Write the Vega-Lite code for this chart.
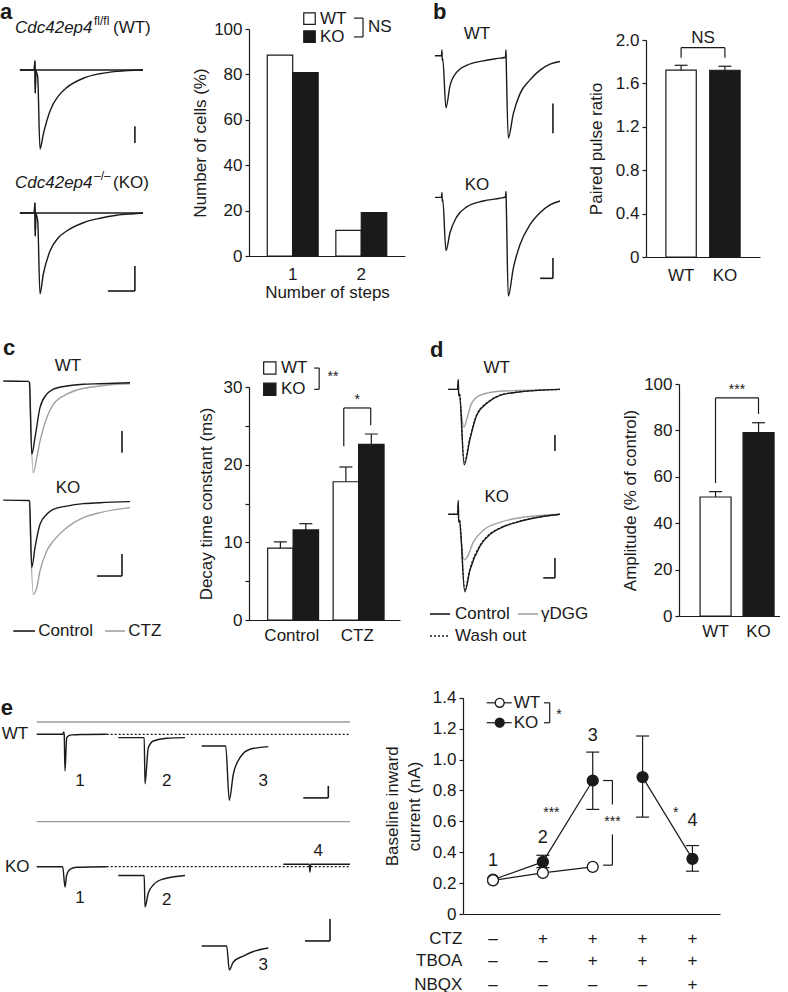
{
"$schema":"https://vega.github.io/schema/vega-lite/v6.json",
"padding":0,
"background":"white",
"columns":4,
"align":"none",
"spacing":{"row":44,"column":0},
"bounds":"flush",
"config":{
 "font":"Liberation Sans",
 "view":{"stroke":null},
 "axis":{"labelFont":"Liberation Sans","titleFont":"Liberation Sans","labelFontSize":17,"titleFontSize":17,"titleFontWeight":"normal","labelColor":"#1a1a1a","titleColor":"#1a1a1a","domainColor":"#1a1a1a","tickColor":"#1a1a1a","domainWidth":1.2,"tickWidth":1.2,"grid":false,"labelPadding":3,"tickSize":4},
 "text":{"font":"Liberation Sans","fontSize":17,"color":"#1a1a1a"},
 "line":{"color":"#1a1a1a","strokeWidth":1.4},
 "rule":{"color":"#1a1a1a","strokeWidth":1.2}
},
"datasets":{
 "aWT":[{"s":"r","t":-5.6,"i":0},{"s":"r","t":-0.3,"i":0},{"s":"r","t":0,"i":54},{"s":"r","t":0.1,"i":-137},{"s":"r","t":0.3,"i":-5},{"s":"r","t":1.0,"i":-40},{"s":"r","t":1.85,"i":-470},{"s":"r","t":3.07,"i":-383},{"s":"r","t":5.56,"i":-244},{"s":"r","t":8.63,"i":-155},{"s":"r","t":11.74,"i":-105},{"s":"r","t":17.9,"i":-49},{"s":"r","t":24.1,"i":-22},{"s":"r","t":30.3,"i":-8},{"s":"r","t":40,"i":0},
  {"s":"f","t":-5.6,"i":0},{"s":"f","t":-0.3,"i":0},{"s":"f","t":0,"i":54},{"s":"f","t":0.1,"i":-137},{"s":"f","t":0.3,"i":0},{"s":"f","t":40,"i":0}],
 "aKO":[{"s":"r","t":-5.6,"i":0},{"s":"r","t":-0.3,"i":0},{"s":"r","t":0,"i":40},{"s":"r","t":0.1,"i":-92},{"s":"r","t":0.3,"i":-4},{"s":"r","t":1.0,"i":-30},{"s":"r","t":1.85,"i":-324},{"s":"r","t":3.07,"i":-245},{"s":"r","t":5.56,"i":-152},{"s":"r","t":8.63,"i":-99},{"s":"r","t":11.74,"i":-72},{"s":"r","t":17.9,"i":-39},{"s":"r","t":24.1,"i":-21},{"s":"r","t":30.3,"i":-9},{"s":"r","t":36.5,"i":-3},{"s":"r","t":40,"i":0},
  {"s":"f","t":-5.6,"i":0},{"s":"f","t":-0.3,"i":0},{"s":"f","t":0,"i":40},{"s":"f","t":0.1,"i":-92},{"s":"f","t":0.3,"i":0},{"s":"f","t":40,"i":0}],
 "bWT":[{"t":-5.5,"i":0},{"t":-0.4,"i":0},{"t":0,"i":20},{"t":0.2,"i":-16},{"t":0.6,"i":-10},{"t":3.1,"i":-175},{"t":6.25,"i":-101},{"t":11.5,"i":-55},{"t":19.3,"i":-32},{"t":32.3,"i":-17},{"t":45.3,"i":-8},{"t":49.6,"i":-5},{"t":50,"i":20},{"t":50.2,"i":-20},{"t":51.8,"i":-277},{"t":55.7,"i":-195},{"t":60.9,"i":-128},{"t":68.75,"i":-81},{"t":76.6,"i":-48},{"t":84.4,"i":-28},{"t":92.2,"i":-19}],
 "bKO":[{"t":-5.5,"i":0},{"t":-0.4,"i":0},{"t":0,"i":25},{"t":0.2,"i":-20},{"t":0.6,"i":-10},{"t":3.1,"i":-263},{"t":6.25,"i":-175},{"t":11.5,"i":-96},{"t":19.3,"i":-47},{"t":32.3,"i":-18},{"t":45.3,"i":-4},{"t":49.6,"i":2},{"t":50,"i":30},{"t":50.2,"i":-20},{"t":51.8,"i":-488},{"t":55.7,"i":-351},{"t":60.9,"i":-234},{"t":68.75,"i":-135},{"t":76.6,"i":-76},{"t":84.4,"i":-37},{"t":92.2,"i":-18}],
 "cWT":[{"s":"Control","t":-10.7,"i":8},{"s":"Control","t":-0.6,"i":6},{"s":"Control","t":-0.2,"i":0},{"s":"Control","t":0.7,"i":-330},{"s":"Control","t":2,"i":-253},{"s":"Control","t":4,"i":-115},{"s":"Control","t":6.7,"i":-53},{"s":"Control","t":9.3,"i":-30},{"s":"Control","t":14.7,"i":-15},{"s":"Control","t":21.3,"i":-7},{"s":"Control","t":28,"i":-5},{"s":"Control","t":40,"i":0},
  {"s":"CTZ","t":-0.2,"i":0},{"s":"CTZ","t":1.3,"i":-415},{"s":"CTZ","t":2.7,"i":-346},{"s":"CTZ","t":4,"i":-269},{"s":"CTZ","t":6.7,"i":-161},{"s":"CTZ","t":9.3,"i":-100},{"s":"CTZ","t":14.7,"i":-53},{"s":"CTZ","t":21.3,"i":-26},{"s":"CTZ","t":28,"i":-15},{"s":"CTZ","t":34.7,"i":-7},{"s":"CTZ","t":40,"i":-5}],
 "cKO":[{"s":"Control","t":-10.7,"i":4},{"s":"Control","t":-0.6,"i":2},{"s":"Control","t":-0.2,"i":0},{"s":"Control","t":0.7,"i":-303},{"s":"Control","t":2,"i":-212},{"s":"Control","t":4,"i":-106},{"s":"Control","t":6.7,"i":-60},{"s":"Control","t":9.3,"i":-38},{"s":"Control","t":14.7,"i":-23},{"s":"Control","t":21.3,"i":-12},{"s":"Control","t":28,"i":-8},{"s":"Control","t":40,"i":-3},
  {"s":"CTZ","t":-0.2,"i":0},{"s":"CTZ","t":1.3,"i":-424},{"s":"CTZ","t":2.7,"i":-394},{"s":"CTZ","t":4,"i":-318},{"s":"CTZ","t":6.7,"i":-227},{"s":"CTZ","t":9.3,"i":-182},{"s":"CTZ","t":14.7,"i":-121},{"s":"CTZ","t":21.3,"i":-76},{"s":"CTZ","t":28,"i":-53},{"s":"CTZ","t":34.7,"i":-38},{"s":"CTZ","t":40,"i":-30}],
 "dWT":[{"s":"Control","t":-8.5,"i":0},{"s":"Control","t":-0.6,"i":0},{"s":"Control","t":0,"i":62},{"s":"Control","t":0.3,"i":-40},{"s":"Control","t":1.0,"i":-30},{"s":"Control","t":5,"i":-471},{"s":"Control","t":10,"i":-310},{"s":"Control","t":15.7,"i":-161},{"s":"Control","t":24.3,"i":-87},{"s":"Control","t":35.6,"i":-37},{"s":"Control","t":49.9,"i":-18},{"s":"Control","t":86.9,"i":0},
  {"s":"gDGG","t":1.0,"i":-30},{"s":"gDGG","t":4.9,"i":-236},{"s":"gDGG","t":7.2,"i":-186},{"s":"gDGG","t":11.4,"i":-87},{"s":"gDGG","t":18.5,"i":-37},{"s":"gDGG","t":35.6,"i":-12},{"s":"gDGG","t":86.9,"i":0},
  {"s":"Wash","t":-8.5,"i":0},{"s":"Wash","t":-0.6,"i":0},{"s":"Wash","t":0,"i":50},{"s":"Wash","t":0.3,"i":-30},{"s":"Wash","t":1.0,"i":-25},{"s":"Wash","t":5,"i":-455},{"s":"Wash","t":10,"i":-300},{"s":"Wash","t":15.7,"i":-158},{"s":"Wash","t":24.3,"i":-85},{"s":"Wash","t":35.6,"i":-36},{"s":"Wash","t":49.9,"i":-17},{"s":"Wash","t":86.9,"i":0}],
 "dKO":[{"s":"Control","t":-8.5,"i":0},{"s":"Control","t":-0.6,"i":0},{"s":"Control","t":0,"i":69},{"s":"Control","t":0.3,"i":-40},{"s":"Control","t":1.0,"i":-30},{"s":"Control","t":5.5,"i":-387},{"s":"Control","t":10,"i":-278},{"s":"Control","t":18.5,"i":-159},{"s":"Control","t":27.1,"i":-100},{"s":"Control","t":35.6,"i":-70},{"s":"Control","t":49.9,"i":-40},{"s":"Control","t":64.1,"i":-20},{"s":"Control","t":86.9,"i":0},
  {"s":"gDGG","t":1.0,"i":-30},{"s":"gDGG","t":4.9,"i":-228},{"s":"gDGG","t":7.2,"i":-218},{"s":"gDGG","t":12.8,"i":-139},{"s":"gDGG","t":21.4,"i":-80},{"s":"gDGG","t":35.6,"i":-40},{"s":"gDGG","t":49.9,"i":-20},{"s":"gDGG","t":86.9,"i":0},
  {"s":"Wash","t":-8.5,"i":0},{"s":"Wash","t":-0.6,"i":0},{"s":"Wash","t":0,"i":55},{"s":"Wash","t":0.3,"i":-30},{"s":"Wash","t":1.0,"i":-25},{"s":"Wash","t":5.5,"i":-375},{"s":"Wash","t":10,"i":-270},{"s":"Wash","t":18.5,"i":-155},{"s":"Wash","t":27.1,"i":-97},{"s":"Wash","t":35.6,"i":-68},{"s":"Wash","t":49.9,"i":-39},{"s":"Wash","t":64.1,"i":-19},{"s":"Wash","t":86.9,"i":0}],
 "eWT":[{"s":"1","t":0,"i":0},{"s":"1","t":52,"i":0},{"s":"1","t":54,"i":20},{"s":"1","t":55,"i":0},{"s":"1","t":56.6,"i":-306},{"s":"1","t":60,"i":-28},{"s":"1","t":64,"i":-12},{"s":"1","t":70.6,"i":-5},{"s":"1","t":90,"i":-2},{"s":"1","t":140,"i":0},
  {"s":"2","t":163.2,"i":-28},{"s":"2","t":215,"i":-28},{"s":"2","t":216.6,"i":-412},{"s":"2","t":223.2,"i":-112},{"s":"2","t":233.2,"i":-56},{"s":"2","t":260,"i":-33},{"s":"2","t":296.6,"i":-28},
  {"s":"3","t":330,"i":-97.5},{"s":"3","t":378,"i":-97.5},{"s":"3","t":385.2,"i":-550},{"s":"3","t":393.2,"i":-333},{"s":"3","t":406.6,"i":-195},{"s":"3","t":426.6,"i":-125},{"s":"3","t":463.2,"i":-103}],
 "eKO":[{"s":"1","t":0,"i":0},{"s":"1","t":52,"i":0},{"s":"1","t":56.6,"i":-185},{"s":"1","t":60,"i":-75},{"s":"1","t":66.6,"i":-24},{"s":"1","t":80,"i":-5},{"s":"1","t":140,"i":0},
  {"s":"2","t":163.2,"i":-80},{"s":"2","t":215,"i":-80},{"s":"2","t":216.6,"i":-366},{"s":"2","t":223.2,"i":-239},{"s":"2","t":233.2,"i":-166},{"s":"2","t":253.2,"i":-112},{"s":"2","t":296.6,"i":-80},
  {"s":"3","t":330,"i":-721},{"s":"3","t":380,"i":-721},{"s":"3","t":385.2,"i":-939},{"s":"3","t":393.2,"i":-866},{"s":"3","t":413.2,"i":-812},{"s":"3","t":433.2,"i":-771},{"s":"3","t":463.2,"i":-739},
  {"s":"4","t":493.2,"i":22},{"s":"4","t":545,"i":22},{"s":"4","t":546.6,"i":-48},{"s":"4","t":548,"i":22},{"s":"4","t":626.6,"i":22}],
 "barsA":[{"steps":"1","geno":"WT","pct":88.5},{"steps":"1","geno":"KO","pct":80.8},{"steps":"2","geno":"WT","pct":11.3},{"steps":"2","geno":"KO","pct":19.1}],
 "barsB":[{"geno":"WT","ppr":1.723,"hi":1.767},{"geno":"KO","ppr":1.721,"hi":1.758}],
 "barsC":[{"cond":"Control","geno":"WT","tau":9.26,"hi":10.06},{"cond":"Control","geno":"KO","tau":11.6,"hi":12.4},{"cond":"CTZ","geno":"WT","tau":17.8,"hi":19.7},{"cond":"CTZ","geno":"KO","tau":22.6,"hi":23.95}],
 "barsD":[{"geno":"WT","amp":51.3,"hi":53.6},{"geno":"KO","amp":79.0,"hi":83.3}],
 "lineE":[{"geno":"KO","seg":"KOa","cond":1,"val":0.222},{"geno":"KO","seg":"KOa","cond":2,"val":0.337},{"geno":"KO","seg":"KOa","cond":3,"val":0.864},{"geno":"KO","seg":"KOb","cond":4,"val":0.886},{"geno":"KO","seg":"KOb","cond":5,"val":0.357},{"geno":"WT","seg":"WT","cond":1,"val":0.218},{"geno":"WT","seg":"WT","cond":2,"val":0.266},{"geno":"WT","seg":"WT","cond":3,"val":0.305}],
 "errE":[{"cond":2,"val":0.30,"val2":0.38},{"cond":3,"val":0.677,"val2":1.048},{"cond":4,"val":0.627,"val2":1.152},{"cond":5,"val":0.277,"val2":0.443}]
},
"concat":[
  {"width":249,"height":256,"resolve":{"scale":{"y":"independent"}},"layer":[
   {"encoding":{"x":{"field":"t","type":"quantitative","scale":{"domain":[-12.96,79.26],"nice":false,"zero":false},"axis":null},"y":{"field":"i","type":"quantitative","scale":{"domain":[-1113.1,410.7],"nice":false,"zero":false},"axis":null}},
    "layer":[
     {"data":{"name":"aWT"},"mark":{"type":"line","interpolate":"monotone"},"encoding":{"detail":{"field":"s","type":"nominal"}}},
     {"data":{"values":[{"t":37,"i":-335,"t2":37,"i2":-435}]},"mark":{"type":"rule","strokeWidth":1.6},"encoding":{"x2":{"field":"t2"},"y2":{"field":"i2"}}},
     {"data":{"values":[{"t":-12.96,"i":345,"label":"a"}]},"mark":{"type":"text","align":"left","baseline":"middle","fontSize":22,"fontWeight":"bold"},"encoding":{"text":{"field":"label"}}},
     {"data":{"values":[{"t":-7.41,"i":251.8,"label":"Cdc42ep4"}]},"mark":{"type":"text","align":"left","baseline":"middle","fontStyle":"italic"},"encoding":{"text":{"field":"label"}}},
     {"data":{"values":[{"t":21.85,"i":293,"label":"fl/fl"}]},"mark":{"type":"text","align":"left","baseline":"middle","fontSize":12},"encoding":{"text":{"field":"label"}}},
     {"data":{"values":[{"t":28.89,"i":251.8,"label":"(WT)"}]},"mark":{"type":"text","align":"left","baseline":"middle"},"encoding":{"text":{"field":"label"}}}
    ]},
   {"encoding":{"x":{"field":"t","type":"quantitative","scale":{"domain":[-12.96,79.26],"nice":false,"zero":false},"axis":null},"y":{"field":"i","type":"quantitative","scale":{"domain":[-176,848],"nice":false,"zero":false},"axis":null}},
    "layer":[
     {"data":{"name":"aKO"},"mark":{"type":"line","interpolate":"monotone"},"encoding":{"detail":{"field":"s","type":"nominal"}}},
     {"data":{"values":[{"t":37,"i":-212,"t2":37,"i2":-312},{"t":27,"i":-312,"t2":37,"i2":-312}]},"mark":{"type":"rule","strokeWidth":1.6},"encoding":{"x2":{"field":"t2"},"y2":{"field":"i2"}}},
     {"data":{"values":[{"t":-7.41,"i":121.2,"label":"Cdc42ep4"}]},"mark":{"type":"text","align":"left","baseline":"middle","fontStyle":"italic"},"encoding":{"text":{"field":"label"}}},
     {"data":{"values":[{"t":21.85,"i":149,"label":"–/–"}]},"mark":{"type":"text","align":"left","baseline":"middle","fontSize":12},"encoding":{"text":{"field":"label"}}},
     {"data":{"values":[{"t":28.89,"i":121.2,"label":"(KO)"}]},"mark":{"type":"text","align":"left","baseline":"middle"},"encoding":{"text":{"field":"label"}}}
    ]}
  ]},
  {"width":156,"height":255,"resolve":{"scale":{"x":"independent"}},"layer":[
   {"data":{"name":"barsA"},"mark":{"type":"bar","stroke":"#1a1a1a","strokeWidth":1.2},
    "encoding":{
     "x":{"field":"steps","type":"nominal","scale":{"paddingInner":0.258,"paddingOuter":0.266},"axis":{"title":"Number of steps","labelAngle":0,"ticks":false,"tickSize":0,"labelPadding":10,"titlePadding":2}},
     "xOffset":{"field":"geno","type":"nominal","sort":["WT","KO"],"scale":{"paddingInner":0,"paddingOuter":0}},
     "y":{"field":"pct","type":"quantitative","title":"Number of cells (%)","scale":{"domain":[0,100],"range":[255,28],"nice":false},"axis":{"values":[0,20,40,60,80,100],"titlePadding":4}},
     "fill":{"field":"geno","type":"nominal","scale":{"domain":["WT","KO"],"range":["#ffffff","#1a1a1a"]},"legend":null}}},
   {"encoding":{"x":{"field":"g","type":"quantitative","scale":{"domain":[0.363,2.637],"nice":false,"zero":false},"axis":null},"y":{"field":"v","type":"quantitative","title":"Number of cells (%)"}},
    "layer":[
     {"data":{"values":[{"g":1.245,"v":104.6,"geno":"WT"},{"g":1.245,"v":96.6,"geno":"KO"}]},"mark":{"type":"square","size":132,"stroke":"#1a1a1a","strokeWidth":1.2,"opacity":1,"filled":true},"encoding":{"fill":{"field":"geno","type":"nominal","legend":null}}},
     {"data":{"values":[{"g":1.398,"v":104.6,"label":"WT"},{"g":1.398,"v":96.6,"label":"KO"},{"g":2.098,"v":100.7,"label":"NS"}]},"mark":{"type":"text","align":"left","baseline":"middle"},"encoding":{"text":{"field":"label"}}},
     {"data":{"values":[{"g":2.025,"v":104.8,"g2":2.025,"v2":96.5},{"g":1.894,"v":104.8,"g2":2.025,"v2":104.8},{"g":1.894,"v":96.5,"g2":2.025,"v2":96.5}]},"mark":{"type":"rule","strokeWidth":1.2},"encoding":{"x2":{"field":"g2"},"y2":{"field":"v2"}}}
    ]}
  ]},
  {"width":241,"height":256,"resolve":{"scale":{"y":"independent"}},"layer":[
   {"encoding":{"x":{"field":"t","type":"quantitative","scale":{"domain":[-28.9,159.4],"nice":false,"zero":false},"axis":null},"y":{"field":"i","type":"quantitative","scale":{"domain":[-676.3,184.2],"nice":false,"zero":false},"axis":null}},
    "layer":[
     {"data":{"name":"bWT"},"mark":{"type":"line","interpolate":"monotone"}},
     {"data":{"values":[{"t":86.7,"i":-160,"t2":86.7,"i2":-260}]},"mark":{"type":"rule","strokeWidth":1.6},"encoding":{"x2":{"field":"t2"},"y2":{"field":"i2"}}},
     {"data":{"values":[{"t":-7.0,"i":148,"label":"b"}]},"mark":{"type":"text","align":"left","baseline":"middle","fontSize":22,"fontWeight":"bold"},"encoding":{"text":{"field":"label"}}},
     {"data":{"values":[{"t":27.3,"i":72,"label":"WT"}]},"mark":{"type":"text","align":"center","baseline":"middle"},"encoding":{"text":{"field":"label"}}}
    ]},
   {"encoding":{"x":{"field":"t","type":"quantitative","scale":{"domain":[-28.9,159.4],"nice":false,"zero":false},"axis":null},"y":{"field":"i","type":"quantitative","scale":{"domain":[-294.6,970.8],"nice":false,"zero":false},"axis":null}},
    "layer":[
     {"data":{"name":"bKO"},"mark":{"type":"line","interpolate":"monotone"}},
     {"data":{"values":[{"t":86.7,"i":-300,"t2":86.7,"i2":-400},{"t":76.7,"i":-400,"t2":86.7,"i2":-400}]},"mark":{"type":"rule","strokeWidth":1.6},"encoding":{"x2":{"field":"t2"},"y2":{"field":"i2"}}},
     {"data":{"values":[{"t":27.3,"i":59,"label":"KO"}]},"mark":{"type":"text","align":"center","baseline":"middle"},"encoding":{"text":{"field":"label"}}}
    ]}
  ]},
  {"width":114,"height":256,"resolve":{"scale":{"x":"independent"}},"layer":[
   {"data":{"name":"barsB"},
    "encoding":{
     "x":{"field":"geno","type":"nominal","sort":["WT","KO"],"scale":{"paddingInner":0.307,"paddingOuter":0.4545},"axis":{"title":null,"labelAngle":0,"ticks":false,"tickSize":0,"labelPadding":10}},
     "y":{"field":"ppr","type":"quantitative","title":"Paired pulse ratio","scale":{"domain":[0,2],"range":[256,39],"nice":false},"axis":{"values":[0,0.4,0.8,1.2,1.6,2.0],"labelExpr":"datum.value == 0 ? '0' : format(datum.value, '.1f')","titlePadding":10}}},
    "layer":[
     {"mark":{"type":"bar","stroke":"#1a1a1a","strokeWidth":1.2},"encoding":{"fill":{"field":"geno","type":"nominal","scale":{"domain":["WT","KO"],"range":["#ffffff","#1a1a1a"]},"legend":null}}},
     {"mark":{"type":"rule","strokeWidth":1.2},"encoding":{"y2":{"field":"hi"}}},
     {"mark":{"type":"tick","size":13,"thickness":1.2,"color":"#1a1a1a","opacity":1},"encoding":{"y":{"field":"hi","type":"quantitative","title":"Paired pulse ratio"}}}
    ]},
   {"encoding":{"x":{"field":"g","type":"quantitative","scale":{"domain":[0.1986,2.8015],"nice":false,"zero":false},"axis":null},"y":{"field":"v","type":"quantitative","title":"Paired pulse ratio"}},
    "layer":[
     {"data":{"values":[{"g":1,"v":1.929,"g2":2,"v2":1.929},{"g":1,"v":1.929,"g2":1,"v2":1.837},{"g":2,"v":1.929,"g2":2,"v2":1.837}]},"mark":{"type":"rule","strokeWidth":1.2},"encoding":{"x2":{"field":"g2"},"y2":{"field":"v2"}}},
     {"data":{"values":[{"g":1.5,"v":2.02,"label":"NS"}]},"mark":{"type":"text","align":"center","baseline":"middle"},"encoding":{"text":{"field":"label"}}}
    ]}
  ]},
  {"width":248,"height":319,"resolve":{"scale":{"y":"independent"}},"layer":[
   {"encoding":{"x":{"field":"t","type":"quantitative","scale":{"domain":[-12,87.2],"nice":false,"zero":false},"axis":null},"y":{"field":"i","type":"quantitative","scale":{"domain":[-1093.5,376.5],"nice":false,"zero":false},"axis":null}},
    "layer":[
     {"data":{"name":"cWT"},"transform":[{"filter":"datum.s === 'CTZ'"}],"mark":{"type":"line","interpolate":"monotone","color":"#a0a0a0"}},
     {"data":{"name":"cWT"},"transform":[{"filter":"datum.s === 'Control'"}],"mark":{"type":"line","interpolate":"monotone"}},
     {"data":{"values":[{"t":36.8,"i":-223,"t2":36.8,"i2":-323}]},"mark":{"type":"rule","strokeWidth":1.6},"encoding":{"x2":{"field":"t2"},"y2":{"field":"i2"}}},
     {"data":{"values":[{"t":-10.8,"i":161,"label":"c"}]},"mark":{"type":"text","align":"left","baseline":"middle","fontSize":22,"fontWeight":"bold"},"encoding":{"text":{"field":"label"}}},
     {"data":{"values":[{"t":15.2,"i":77,"label":"WT"}]},"mark":{"type":"text","align":"center","baseline":"middle"},"encoding":{"text":{"field":"label"}}}
    ]},
   {"encoding":{"x":{"field":"t","type":"quantitative","scale":{"domain":[-12,87.2],"nice":false,"zero":false},"axis":null},"y":{"field":"i","type":"quantitative","scale":{"domain":[-540.9,909.1],"nice":false,"zero":false},"axis":null}},
    "layer":[
     {"data":{"name":"cKO"},"transform":[{"filter":"datum.s === 'CTZ'"}],"mark":{"type":"line","interpolate":"monotone","color":"#a0a0a0"}},
     {"data":{"name":"cKO"},"transform":[{"filter":"datum.s === 'Control'"}],"mark":{"type":"line","interpolate":"monotone"}},
     {"data":{"values":[{"t":36.8,"i":-241,"t2":36.8,"i2":-341},{"t":26.8,"i":-341,"t2":36.8,"i2":-341},{"t":-6.7,"i":-591,"t2":2,"i2":-591}]},"mark":{"type":"rule","strokeWidth":1.6},"encoding":{"x2":{"field":"t2"},"y2":{"field":"i2"}}},
     {"data":{"values":[{"t":30,"i":-591,"t2":38,"i2":-591}]},"mark":{"type":"rule","strokeWidth":1.6,"color":"#a0a0a0"},"encoding":{"x2":{"field":"t2"},"y2":{"field":"i2"}}},
     {"data":{"values":[{"t":15.2,"i":60,"label":"KO"}]},"mark":{"type":"text","align":"center","baseline":"middle"},"encoding":{"text":{"field":"label"}}},
     {"data":{"values":[{"t":3.3,"i":-591,"label":"Control"},{"t":39.3,"i":-591,"label":"CTZ"}]},"mark":{"type":"text","align":"left","baseline":"middle"},"encoding":{"text":{"field":"label"}}}
    ]}
  ]},
  {"width":151,"height":319,"resolve":{"scale":{"x":"independent"}},"layer":[
   {"data":{"name":"barsC"},
    "encoding":{
     "x":{"field":"cond","type":"nominal","sort":["Control","CTZ"],"scale":{"paddingInner":0.264,"paddingOuter":0.285},"axis":{"title":null,"labelAngle":0,"ticks":false,"tickSize":0,"labelPadding":7}},
     "xOffset":{"field":"geno","type":"nominal","sort":["WT","KO"],"scale":{"paddingInner":0.211,"paddingOuter":0}},
     "y":{"field":"tau","type":"quantitative","title":"Decay time constant (ms)","scale":{"domain":[0,30],"range":[319,86],"nice":false},"axis":{"values":[0,5,10,15,20,25,30],"labelExpr":"datum.value % 10 == 0 ? datum.label : ''","titlePadding":8}}},
    "layer":[
     {"mark":{"type":"bar","stroke":"#1a1a1a","strokeWidth":1.2},"encoding":{"fill":{"field":"geno","type":"nominal","scale":{"domain":["WT","KO"],"range":["#ffffff","#1a1a1a"]},"legend":null}}},
     {"mark":{"type":"rule","strokeWidth":1.2},"encoding":{"y2":{"field":"hi"}}},
     {"mark":{"type":"tick","size":13,"thickness":1.2,"color":"#1a1a1a","opacity":1},"encoding":{"y":{"field":"hi","type":"quantitative","title":"Decay time constant (ms)"}}}
    ]},
   {"encoding":{"x":{"field":"g","type":"quantitative","scale":{"domain":[0.347,2.653],"nice":false,"zero":false},"axis":null},"y":{"field":"v","type":"quantitative","title":"Decay time constant (ms)"}},
    "layer":[
     {"data":{"values":[{"g":0.6646,"v":32.44,"geno":"WT"},{"g":0.6646,"v":29.7,"geno":"KO"}]},"mark":{"type":"square","size":151,"stroke":"#1a1a1a","strokeWidth":1.2,"opacity":1,"filled":true},"encoding":{"fill":{"field":"geno","type":"nominal","legend":null}}},
     {"data":{"values":[{"g":0.8346,"v":32.44,"label":"WT"},{"g":0.8346,"v":29.7,"label":"KO"}]},"mark":{"type":"text","align":"left","baseline":"middle"},"encoding":{"text":{"field":"label"}}},
     {"data":{"values":[{"g":1.547,"v":31.3,"label":"**"}]},"mark":{"type":"text","align":"left","baseline":"middle","fontSize":14},"encoding":{"text":{"field":"label"}}},
     {"data":{"values":[{"g":2.0,"v":28.3,"label":"*"}]},"mark":{"type":"text","align":"center","baseline":"middle","fontSize":14},"encoding":{"text":{"field":"label"}}},
     {"data":{"values":[{"g":1.4185,"v":32.44,"g2":1.4185,"v2":29.7},{"g":1.3423,"v":32.44,"g2":1.4185,"v2":32.44},{"g":1.3423,"v":29.7,"g2":1.4185,"v2":29.7},{"g":1.7943,"v":27.3,"g2":2.2057,"v2":27.3},{"g":1.7943,"v":27.3,"g2":1.7943,"v2":22.37},{"g":2.2057,"v":27.3,"g2":2.2057,"v2":25.07}]},"mark":{"type":"rule","strokeWidth":1.2},"encoding":{"x2":{"field":"g2"},"y2":{"field":"v2"}}}
    ]}
  ]},
  {"width":241,"height":315,"resolve":{"scale":{"y":"independent"}},"layer":[
   {"encoding":{"x":{"field":"t","type":"quantitative","scale":{"domain":[-45.56,160.43],"nice":false,"zero":false},"axis":null},"y":{"field":"i","type":"quantitative","scale":{"domain":[-1416.25,552.5],"nice":false,"zero":false},"axis":null}},
    "layer":[
     {"data":{"name":"dWT"},"transform":[{"filter":"datum.s === 'gDGG'"}],"mark":{"type":"line","interpolate":"monotone","color":"#a0a0a0"}},
     {"data":{"name":"dWT"},"transform":[{"filter":"datum.s === 'Control'"}],"mark":{"type":"line","interpolate":"monotone"}},
     {"data":{"name":"dWT"},"transform":[{"filter":"datum.s === 'Wash'"}],"mark":{"type":"line","interpolate":"monotone","strokeDash":[2,2],"strokeWidth":1.2}},
     {"data":{"values":[{"t":82.6,"i":-285,"t2":82.6,"i2":-385}]},"mark":{"type":"rule","strokeWidth":1.6},"encoding":{"x2":{"field":"t2"},"y2":{"field":"i2"}}},
     {"data":{"values":[{"t":-24.2,"i":248,"label":"d"}]},"mark":{"type":"text","align":"left","baseline":"middle","fontSize":22,"fontWeight":"bold"},"encoding":{"text":{"field":"label"}}},
     {"data":{"values":[{"t":32.8,"i":136,"label":"WT"}]},"mark":{"type":"text","align":"center","baseline":"middle"},"encoding":{"text":{"field":"label"}}}
    ]},
   {"encoding":{"x":{"field":"t","type":"quantitative","scale":{"domain":[-45.56,160.43],"nice":false,"zero":false},"axis":null},"y":{"field":"i","type":"quantitative","scale":{"domain":[-508.5,1066.5],"nice":false,"zero":false},"axis":null}},
    "layer":[
     {"data":{"name":"dKO"},"transform":[{"filter":"datum.s === 'gDGG'"}],"mark":{"type":"line","interpolate":"monotone","color":"#a0a0a0"}},
     {"data":{"name":"dKO"},"transform":[{"filter":"datum.s === 'Control'"}],"mark":{"type":"line","interpolate":"monotone"}},
     {"data":{"name":"dKO"},"transform":[{"filter":"datum.s === 'Wash'"}],"mark":{"type":"line","interpolate":"monotone","strokeDash":[2,2],"strokeWidth":1.2}},
     {"data":{"values":[{"t":82.6,"i":-218,"t2":82.6,"i2":-318},{"t":72.6,"i":-318,"t2":82.6,"i2":-318},{"t":-24.2,"i":-498.5,"t2":-7.1,"i2":-498.5}]},"mark":{"type":"rule","strokeWidth":1.6},"encoding":{"x2":{"field":"t2"},"y2":{"field":"i2"}}},
     {"data":{"values":[{"t":51.0,"i":-498.5,"t2":68.1,"i2":-498.5}]},"mark":{"type":"rule","strokeWidth":1.6,"color":"#a0a0a0"},"encoding":{"x2":{"field":"t2"},"y2":{"field":"i2"}}},
     {"data":{"values":[{"t":-24.2,"i":-608.5,"t2":-7.1,"i2":-608.5}]},"mark":{"type":"rule","strokeWidth":1.4,"strokeDash":[2,2]},"encoding":{"x2":{"field":"t2"},"y2":{"field":"i2"}}},
     {"data":{"values":[{"t":32.8,"i":89,"label":"KO"}]},"mark":{"type":"text","align":"center","baseline":"middle"},"encoding":{"text":{"field":"label"}}},
     {"data":{"values":[{"t":-2.8,"i":-498.5,"label":"Control"},{"t":70.7,"i":-498.5,"label":"γDGG"},{"t":-2.8,"i":-608.5,"label":"Wash out"}]},"mark":{"type":"text","align":"left","baseline":"middle"},"encoding":{"text":{"field":"label"}}}
    ]}
  ]},
  {"width":134,"height":315,"resolve":{"scale":{"x":"independent"}},"layer":[
   {"data":{"name":"barsD"},
    "encoding":{
     "x":{"field":"geno","type":"nominal","sort":["WT","KO"],"scale":{"range":[33,134],"paddingInner":0.279,"paddingOuter":0.314,"align":0.78},"axis":{"title":null,"labelAngle":0,"ticks":false,"tickSize":0,"labelPadding":7}},
     "y":{"field":"amp","type":"quantitative","title":"Amplitude (% of control)","scale":{"domain":[0,100],"range":[315,83],"nice":false},"axis":{"offset":-33,"values":[0,10,20,30,40,50,60,70,80,90,100],"labelExpr":"datum.value % 20 == 0 ? datum.label : ''","titlePadding":4}}},
    "layer":[
     {"mark":{"type":"bar","stroke":"#1a1a1a","strokeWidth":1.2},"encoding":{"fill":{"field":"geno","type":"nominal","scale":{"domain":["WT","KO"],"range":["#ffffff","#1a1a1a"]},"legend":null}}},
     {"mark":{"type":"rule","strokeWidth":1.2},"encoding":{"y2":{"field":"hi"}}},
     {"mark":{"type":"tick","size":13,"thickness":1.2,"color":"#1a1a1a","opacity":1},"encoding":{"y":{"field":"hi","type":"quantitative","title":"Amplitude (% of control)"}}}
    ]},
   {"encoding":{"x":{"field":"g","type":"quantitative","scale":{"domain":[0.1512,2.5],"range":[33,134],"nice":false,"zero":false},"axis":null},"y":{"field":"v","type":"quantitative","title":"Amplitude (% of control)"}},
    "layer":[
     {"data":{"values":[{"g":1,"v":94,"g2":2,"v2":94},{"g":1,"v":94,"g2":1,"v2":57.3},{"g":2,"v":94,"g2":2,"v2":87.1}]},"mark":{"type":"rule","strokeWidth":1.2},"encoding":{"x2":{"field":"g2"},"y2":{"field":"v2"}}},
     {"data":{"values":[{"g":1.5,"v":97.5,"label":"***"}]},"mark":{"type":"text","align":"center","baseline":"middle","fontSize":14},"encoding":{"text":{"field":"label"}}}
    ]}
  ]},
  {"width":249,"height":250,"resolve":{"scale":{"y":"independent"}},"layer":[
   {"encoding":{"x":{"field":"t","type":"quantitative","scale":{"domain":[-73.4,424.6],"nice":false,"zero":false},"axis":null},"y":{"field":"i","type":"quantitative","scale":{"domain":[-1497.5,585.8],"nice":false,"zero":false},"axis":null}},
    "layer":[
     {"data":{"values":[{"t":0,"i":102.5,"t2":626.6,"i2":102.5},{"t":0,"i":-728,"t2":626.6,"i2":-728}]},"mark":{"type":"rule","strokeWidth":1.3,"color":"#9a9a9a"},"encoding":{"x2":{"field":"t2"},"y2":{"field":"i2"}}},
     {"data":{"values":[{"t":140,"i":0,"t2":626.6,"i2":0}]},"mark":{"type":"rule","strokeWidth":1.2,"strokeDash":[2,2]},"encoding":{"x2":{"field":"t2"},"y2":{"field":"i2"}}},
     {"data":{"name":"eWT"},"mark":{"type":"line","interpolate":"monotone"},"encoding":{"detail":{"field":"s","type":"nominal"}}},
     {"data":{"values":[{"t":583.2,"i":-430,"t2":583.2,"i2":-530},{"t":533.2,"i":-530,"t2":583.2,"i2":-530}]},"mark":{"type":"rule","strokeWidth":1.6},"encoding":{"x2":{"field":"t2"},"y2":{"field":"i2"}}},
     {"data":{"values":[{"t":-72,"i":219,"label":"e"}]},"mark":{"type":"text","align":"left","baseline":"middle","fontSize":22,"fontWeight":"bold"},"encoding":{"text":{"field":"label"}}},
     {"data":{"values":[{"t":-70,"i":0,"label":"WT"}]},"mark":{"type":"text","align":"left","baseline":"middle"},"encoding":{"text":{"field":"label"}}},
     {"data":{"values":[{"t":86.6,"i":-389,"label":"1"},{"t":260,"i":-389,"label":"2"},{"t":453.2,"i":-389,"label":"3"}]},"mark":{"type":"text","align":"center","baseline":"middle"},"encoding":{"text":{"field":"label"}}}
    ]},
   {"encoding":{"x":{"field":"t","type":"quantitative","scale":{"domain":[-73.4,424.6],"nice":false,"zero":false},"axis":null},"y":{"field":"i","type":"quantitative","scale":{"domain":[-430,1842.7],"nice":false,"zero":false},"axis":null}},
    "layer":[
     {"data":{"values":[{"t":140,"i":0,"t2":626.6,"i2":0}]},"mark":{"type":"rule","strokeWidth":1.2,"strokeDash":[2,2]},"encoding":{"x2":{"field":"t2"},"y2":{"field":"i2"}}},
     {"data":{"name":"eKO"},"mark":{"type":"line","interpolate":"monotone"},"encoding":{"detail":{"field":"s","type":"nominal"}}},
     {"data":{"values":[{"t":586.6,"i":-475,"t2":586.6,"i2":-675},{"t":536.6,"i":-675,"t2":586.6,"i2":-675}]},"mark":{"type":"rule","strokeWidth":1.6},"encoding":{"x2":{"field":"t2"},"y2":{"field":"i2"}}},
     {"data":{"values":[{"t":-63.4,"i":0,"label":"KO"}]},"mark":{"type":"text","align":"left","baseline":"middle"},"encoding":{"text":{"field":"label"}}},
     {"data":{"values":[{"t":86.6,"i":-285,"label":"1"},{"t":260,"i":-303,"label":"2"},{"t":453.2,"i":-894,"label":"3"},{"t":563.2,"i":143,"label":"4"}]},"mark":{"type":"text","align":"center","baseline":"middle"},"encoding":{"text":{"field":"label"}}}
    ]}
  ]},
  {"width":156,"height":250,
   "encoding":{
    "x":{"field":"cond","type":"quantitative","scale":{"domain":[0.398,5.553],"range":[214,471],"nice":false,"zero":false},"axis":{"labels":false,"ticks":false,"title":null}},
    "y":{"field":"val","type":"quantitative","title":["Baseline inward","current (nA)"],"scale":{"domain":[0,1.4],"range":[250,33.7],"nice":false,"zero":false},"axis":{"offset":-214,"values":[0,0.2,0.4,0.6,0.8,1,1.2,1.4],"labelExpr":"datum.value == 0 ? '0' : format(datum.value, '.1f')","titlePadding":9,"titleLineHeight":22}}},
   "layer":[
    {"data":{"name":"errE"},"mark":{"type":"rule","strokeWidth":1.2},"encoding":{"y2":{"field":"val2"}}},
    {"data":{"name":"errE"},"mark":{"type":"tick","orient":"horizontal","size":13,"thickness":1.2,"color":"#1a1a1a","opacity":1}},
    {"data":{"name":"errE"},"mark":{"type":"tick","orient":"horizontal","size":13,"thickness":1.2,"color":"#1a1a1a","opacity":1},"encoding":{"y":{"field":"val2","type":"quantitative","title":["Baseline inward","current (nA)"]}}},
    {"data":{"name":"lineE"},"mark":{"type":"line","strokeWidth":1.2},"encoding":{"detail":{"field":"seg","type":"nominal"}}},
    {"data":{"name":"lineE"},"mark":{"type":"point","shape":"circle","filled":true,"size":120,"stroke":"#1a1a1a","strokeWidth":1.3,"opacity":1},"encoding":{"fill":{"field":"geno","type":"nominal","scale":{"domain":["WT","KO"],"range":["#ffffff","#1a1a1a"]},"legend":null}}},
    {"data":{"values":[{"cond":0.873,"val":1.367,"cond2":1.375,"val2":1.367},{"cond":0.873,"val":1.238,"cond2":1.375,"val2":1.238},{"cond":2.137,"val":1.367,"cond2":2.137,"val2":1.238},{"cond":2.023,"val":1.367,"cond2":2.137,"val2":1.367},{"cond":2.023,"val":1.238,"cond2":2.137,"val2":1.238},{"cond":3.395,"val":0.864,"cond2":3.395,"val2":0.709},{"cond":3.395,"val":0.515,"cond2":3.395,"val2":0.316},{"cond":3.207,"val":0.864,"cond2":3.395,"val2":0.864},{"cond":3.207,"val":0.316,"cond2":3.395,"val2":0.316}]},"mark":{"type":"rule","strokeWidth":1.2},"encoding":{"x2":{"field":"cond2"},"y2":{"field":"val2"}}},
    {"data":{"values":[{"cond":1.134,"val":1.367,"geno":"WT"},{"cond":1.134,"val":1.238,"geno":"KO"}]},"mark":{"type":"point","shape":"circle","filled":true,"size":80,"stroke":"#1a1a1a","strokeWidth":1.3,"opacity":1},"encoding":{"fill":{"field":"geno","type":"nominal","legend":null}}},
    {"data":{"values":[{"cond":1.415,"val":1.367,"label":"WT"},{"cond":1.415,"val":1.238,"label":"KO"}]},"mark":{"type":"text","align":"left","baseline":"middle"},"encoding":{"text":{"field":"label"}}},
    {"data":{"values":[{"cond":1,"val":0.342,"label":"1"},{"cond":2,"val":0.493,"label":"2"},{"cond":3,"val":1.152,"label":"3"},{"cond":5,"val":0.60,"label":"4"}]},"mark":{"type":"text","align":"center","baseline":"middle","fontSize":18},"encoding":{"text":{"field":"label"}}},
    {"data":{"values":[{"cond":2.324,"val":1.29,"label":"*"},{"cond":2.171,"val":0.655,"label":"***"},{"cond":3.395,"val":0.595,"label":"***"},{"cond":4.665,"val":0.655,"label":"*"}]},"mark":{"type":"text","align":"center","baseline":"middle","fontSize":14},"encoding":{"text":{"field":"label"}}},
    {"data":{"values":[{"cond":0.385,"val":-0.159,"label":"CTZ"},{"cond":0.385,"val":-0.307,"label":"TBOA"},{"cond":0.385,"val":-0.458,"label":"NBQX"}]},"mark":{"type":"text","align":"right","baseline":"middle"},"encoding":{"text":{"field":"label"}}},
    {"data":{"values":[{"cond":1,"val":-0.159,"label":"–"},{"cond":2,"val":-0.159,"label":"+"},{"cond":3,"val":-0.159,"label":"+"},{"cond":4,"val":-0.159,"label":"+"},{"cond":5,"val":-0.159,"label":"+"},{"cond":1,"val":-0.307,"label":"–"},{"cond":2,"val":-0.307,"label":"–"},{"cond":3,"val":-0.307,"label":"+"},{"cond":4,"val":-0.307,"label":"+"},{"cond":5,"val":-0.307,"label":"+"},{"cond":1,"val":-0.458,"label":"–"},{"cond":2,"val":-0.458,"label":"–"},{"cond":3,"val":-0.458,"label":"–"},{"cond":4,"val":-0.458,"label":"–"},{"cond":5,"val":-0.458,"label":"+"}]},"mark":{"type":"text","align":"center","baseline":"middle"},"encoding":{"text":{"field":"label"}}}
   ]}
]
}
